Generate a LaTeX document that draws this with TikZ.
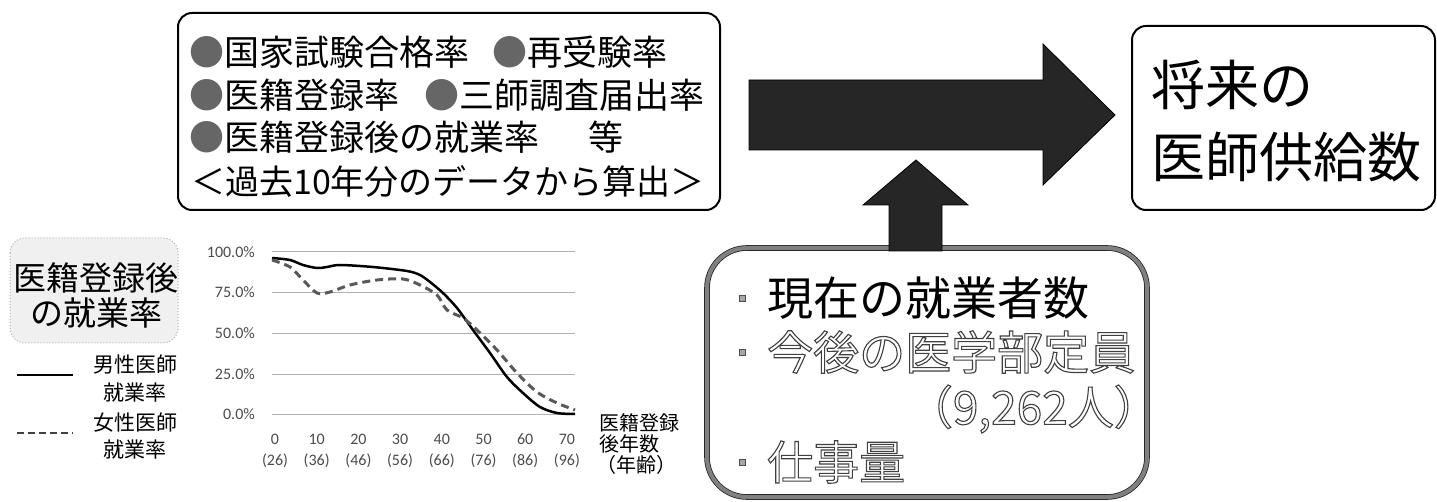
\documentclass[tikz,border=0pt]{standalone}
\usepackage{fontspec}
\setmainfont{Noto Sans CJK JP}
\newfontfamily\chartfont{Carlito}
\newcommand{\outl}[1]{\special{pdf:literal direct 1 Tr 1.1 w}#1\special{pdf:literal direct 0 Tr}}
\newcommand{\fs}[1]{\fontsize{#1}{#1}\selectfont}
\begin{document}
\begin{tikzpicture}[x=1pt,y=-1pt,
  box/.style={draw=black, line width=2, rounded corners=14},
  jp/.style={inner sep=0, anchor=west},
  arrowfill/.style={fill=black!85, draw=black, line width=0.8},
  grid/.style={draw=black!30, line width=0.6},
  ylab/.style={inner sep=0, anchor=east, font=\chartfont\fs{16}, text=black!70},
  xlab/.style={inner sep=0, font=\chartfont\fs{16}, text=black!70},
  leg/.style={inner sep=0, font=\fs{21}},
  outtext/.style={text=black!75}]
\useasboundingbox (0,0) rectangle (1437,502);
\fill[white] (0,0) rectangle (1437,502);

% ---- top box
\draw[box] (178,13) rectangle (720,210);
\node[jp, font=\fs{35}] (r1a) at (189,52) {{\color{black!60}●}国家試験合格率};
\node[jp, font=\fs{35}] (r1b) at (492,52) {{\color{black!60}●}再受験率};
\node[jp, font=\fs{35}] (r2a) at (189,95) {{\color{black!60}●}医籍登録率};
\node[jp, font=\fs{35}] (r2b) at (424,95) {{\color{black!60}●}三師調査届出率};
\node[jp, font=\fs{35}] (r3a) at (189,137) {{\color{black!60}●}医籍登録後の就業率};
\node[jp, font=\fs{35}] (r3b) at (588,137) {等};
\node[jp, font=\fs{34}] (r4) at (191,182) {＜過去10年分のデータから算出＞};

% ---- right box
\draw[box] (1132,26) rectangle (1435,210);
\node[jp, font=\fs{54}] (f1) at (1151,85) {将来の};
\node[jp, font=\fs{54}] (f2) at (1151,157) {医師供給数};

% ---- bottom box
\draw[draw=black!85, line width=0.8, double=black!50, double distance=4, rounded corners=40]
  (707,248) rectangle (1147,497);
\foreach \yy in {298,352,462}{
  \draw[fill=black!35, draw=black!70, line width=0.6] (739,\yy-3) rectangle (745,\yy+3);
}
\node[jp, font=\fs{46}] (b1) at (767,298) {現在の就業者数};
\node[jp, font=\fs{46}, outtext] (b2) at (767,352) {\outl{今後の医学部定員}};
\node[inner sep=0, anchor=east, font=\fs{46}, outtext] (b3) at (1160,409) {\outl{（9,262人）}};
\node[jp, font=\fs{46}, outtext] (b4) at (767,462) {\outl{仕事量}};

% ---- arrows
\filldraw[arrowfill] (749,80) -- (1043,80) -- (1043,44) -- (1115,115) -- (1043,185) -- (1043,150) -- (749,150) -- cycle;
\filldraw[arrowfill] (889,251) -- (889,205) -- (863,205) -- (916,160) -- (968,205) -- (942,205) -- (942,251) -- cycle;

% ---- label box
\draw[fill=black!6, draw=black!30, dotted, line width=1, rounded corners=15] (10,238) rectangle (178,343);
\node[inner sep=0, font=\fs{33}] (l1) at (96,278) {医籍登録後};
\node[inner sep=0, font=\fs{33}] (l2) at (96,313) {の就業率};

% ---- legend
\coordinate (ms) at (17,375); \coordinate (me) at (73,375);
\draw[line width=2.5] (ms) -- (me);
\node[leg] (m1) at (135,365) {男性医師};
\node[leg] (m2) at (135,393) {就業率};
\coordinate (fs) at (17,433); \coordinate (fe) at (73,433);
\draw[line width=2.5, black!75, dash pattern=on 7 off 4] (fs) -- (fe);
\node[leg] (w1) at (135,423) {女性医師};
\node[leg] (w2) at (135,450) {就業率};

% ---- chart
\foreach \yy/\lab in {251.7/100.0\%, 292/75.0\%, 333/50.0\%, 374/25.0\%, 414/0.0\%}{
  \draw[grid] (272,\yy) -- (575,\yy);
  \node[ylab] at (255,\yy) {\lab};
}
\foreach \i/\a in {0/26,1/36,2/46,3/56,4/66,5/76,6/86,7/96}{
  \pgfmathsetmacro{\xx}{275+\i*41.7}
  \pgfmathtruncatemacro{\yr}{\i*10}
  \node[xlab] at (\xx,439) {\yr};
  \node[xlab] at (\xx,461) {(\a)};
}
\node[jp, font=\fs{20}] (t1) at (599,423) {医籍登録};
\node[jp, font=\fs{20}] (t2) at (599,444) {後年数};
\node[jp, font=\fs{20}] (t3) at (596,465) {（年齢）};

\draw[line width=2.5, black] plot[smooth, tension=0.5] coordinates {(272,258) (290,260) (303,265) (317,268) (327,267) (340,265) (373,267) (407,271) (420,275) (430,282) (443,293) (457,308) (473,330) (490,353) (507,377) (523,393) (540,407) (557,413) (575,414)};
\draw[line width=3, black!65, dash pattern=on 8 off 5] plot[smooth, tension=0.5] coordinates {(272,260) (290,267) (303,280) (317,293) (330,292) (350,285) (377,280) (403,279) (420,285) (437,295) (447,310) (463,318) (477,330) (497,350) (517,373) (537,392) (557,403) (575,410)};
\end{tikzpicture}
\end{document}
